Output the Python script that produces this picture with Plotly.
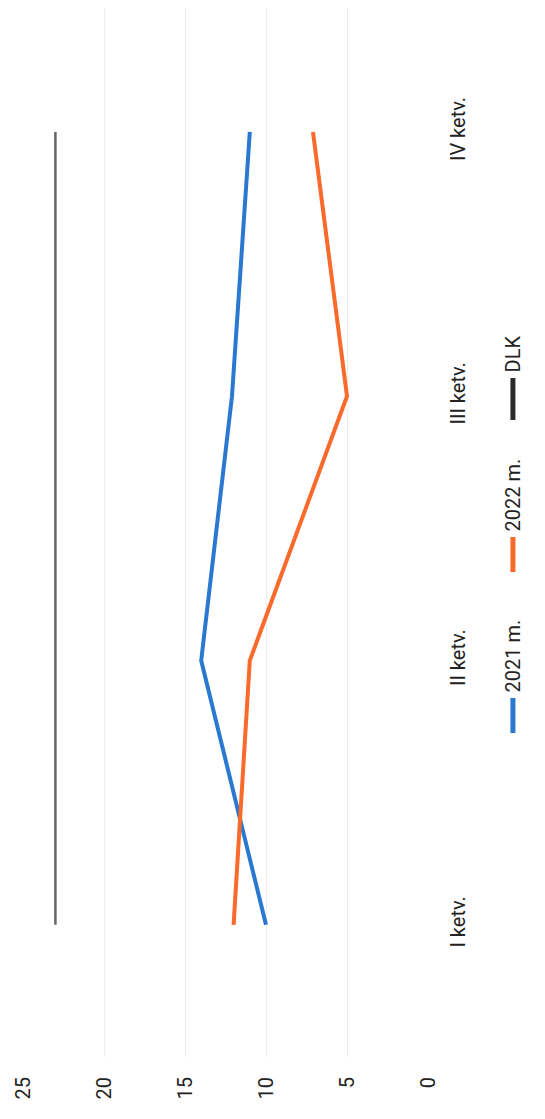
import plotly.graph_objects as go

categories = ["I ketv.", "II ketv.", "III ketv.", "IV ketv."]
series_names = ["2021 m.", "2022 m.", "DLK"]
values_2021 = [10, 14, 12.1, 11]
values_2022 = [12, 11, 5, 7.1]
values_dlk = [23, 23, 23, 23]
value_ticks = [0, 5, 10, 15, 20, 25]

colors = ["#2A78D0", "#F96A2B", "#666666"]
swatch_colors = ["#2A78D0", "#F96A2B", "#2b2b2b"]
widths = [4, 4, 2.5]

W, H = 545, 1119
OFF = 8                 # page offset of the plot div
L, R = 14.6, 420        # plot left/right (figure px)
T, B = 0, 1049          # plot top/bottom (figure px)

FONT = "Liberation Sans Narrow, Roboto, Open Sans, sans-serif"

fig = go.Figure()
for name, vals, c, w in zip(series_names, [values_2021, values_2022, values_dlk], colors, widths):
    fig.add_trace(go.Scatter(x=vals, y=categories, mode="lines", name=name,
                             line=dict(color=c, width=w), showlegend=False))

def px(xs):
    return (xs - OFF - L) / (R - L)

def py(ys):
    return (B - (ys - OFF)) / (B - T)

# rotated legend built from the series names (screen px)
leg = [  # (swatch y0, swatch y1, text bottom)
    (733, 698, 694),
    (572, 537, 533),
    (420, 378, 374),
]
for name, sc, (s0, s1, tb) in zip(series_names, swatch_colors, leg):
    fig.add_shape(type="line", xref="paper", yref="paper",
                  x0=px(513), x1=px(513), y0=py(s0), y1=py(s1),
                  line=dict(color=sc, width=5))
    fig.add_annotation(text=name, textangle=-90, xref="paper", yref="paper",
                       x=px(513), y=py(tb), xanchor="center", yanchor="bottom",
                       showarrow=False, font=dict(family=FONT, size=20, color="#222"))

fig.update_layout(
    width=W, height=H,
    margin=dict(l=L, r=W - R, t=T, b=H - B, pad=0, autoexpand=False),
    paper_bgcolor="white", plot_bgcolor="white",
    font=dict(family=FONT, size=20, color="#222"),
    xaxis=dict(range=[25, 0], tickvals=value_ticks, tickangle=-90,
               showgrid=True, gridcolor="#ededed", gridwidth=1,
               zeroline=False, showline=False, ticks="", ticklabelstandoff=15),
    yaxis=dict(type="category", categoryorder="array", categoryarray=categories,
               range=[-0.5, 3.469], side="right", tickangle=-90,
               showgrid=False, zeroline=False, showline=False, ticks="",
               ticklabelstandoff=16),
)

fig.write_html("out.html")
